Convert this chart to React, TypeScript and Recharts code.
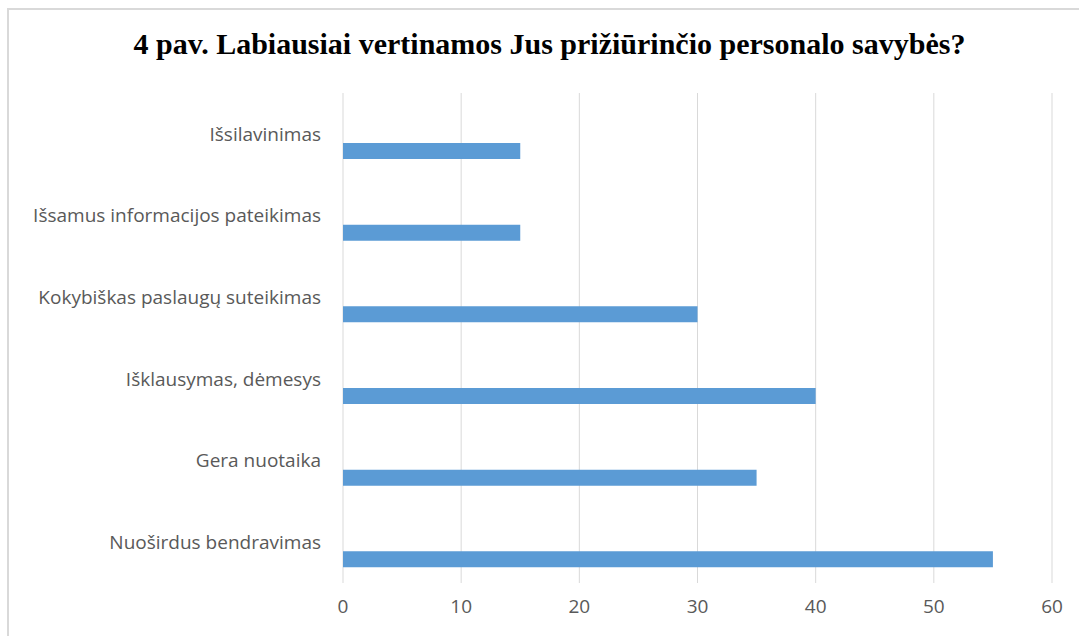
import React from 'react';
import { BarChart, Bar, XAxis, YAxis, CartesianGrid } from 'recharts';

const categories = [
  'Išsilavinimas',
  'Išsamus informacijos pateikimas',
  'Kokybiškas paslaugų suteikimas',
  'Išklausymas, dėmesys',
  'Gera nuotaika',
  'Nuoširdus bendravimas',
];
const values = [15, 15, 30, 40, 35, 55];
const emptySeries = [0, 0, 0, 0, 0, 0];
const xTicks = [0, 10, 20, 30, 40, 50, 60];
const title = '4 pav. Labiausiai vertinamos Jus prižiūrinčio personalo savybės?';

const data = categories.map((c, i) => ({ name: c, empty: emptySeries[i], value: values[i] }));

export default function App() {
  return (
    <div style={{ position: 'absolute', left: 0, top: 0, width: 1079, height: 636, background: '#fff', overflow: 'hidden' }}>
      <div style={{ position: 'absolute', left: 7, top: 8, width: 1100, height: 700, border: '2px solid #d9d9d9', boxSizing: 'border-box' }} />
      <div style={{ position: 'absolute', left: 0, top: 27, width: 1099, textAlign: 'center', fontFamily: '"Liberation Serif", "Times New Roman", serif', fontWeight: 'bold', fontSize: 30, color: '#000' }}>
        {title}
      </div>
      <div style={{ position: 'absolute', left: 0, top: 0 }}>
        <BarChart
          width={1079}
          height={636}
          data={data}
          layout="vertical"
          margin={{ top: 93, right: 27, bottom: 0, left: 0 }}
          barSize={16}
          barGap={18}
        >
          <CartesianGrid horizontal={false} vertical={true} stroke="#d9d9d9" strokeWidth={1} />
          <XAxis
            type="number"
            domain={[0, 60]}
            ticks={xTicks}
            axisLine={false}
            tickLine={false}
            tickSize={0}
            tickMargin={17}
            height={53}
            tick={{ fill: '#595959', fontSize: 19, fontFamily: '"Open Sans", sans-serif' }}
          />
          <YAxis
            type="category"
            dataKey="name"
            width={343}
            axisLine={false}
            tickLine={false}
            tickSize={0}
            tickMargin={22}
            tick={{ fill: '#595959', fontSize: 19, fontFamily: '"Open Sans", sans-serif' }}
          />
          <Bar dataKey="empty" fill="#5b9bd5" isAnimationActive={false} />
          <Bar dataKey="value" fill="#5b9bd5" isAnimationActive={false} />
        </BarChart>
      </div>
    </div>
  );
}
